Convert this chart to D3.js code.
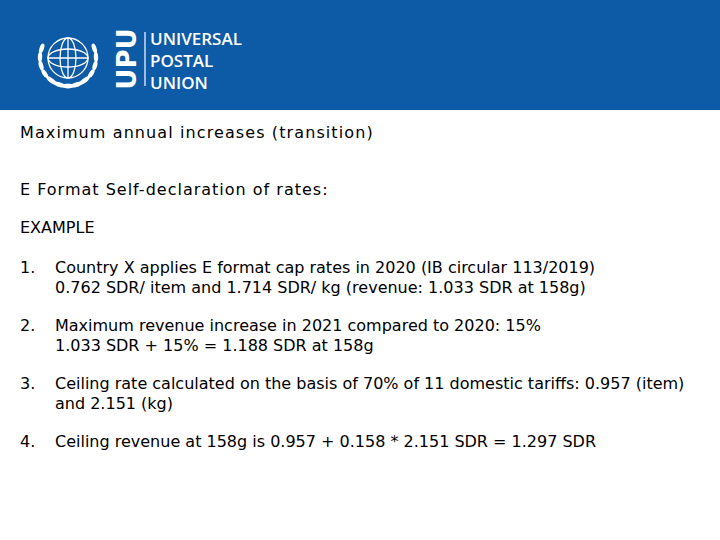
<!DOCTYPE html>
<html><head><meta charset="utf-8">
<script src="https://cdn.jsdelivr.net/npm/d3@7"></script>
<style>body{margin:0;background:#fff}</style>
</head><body>
<svg id="slide"></svg>
<script>
const width = 720, height = 540;
const brandLines = ["UNIVERSAL", "POSTAL", "UNION"];
const headings = ["Maximum annual increases (transition)", "E Format Self-declaration of rates:", "EXAMPLE"];
const itemNumbers = ["1.", "2.", "3.", "4."];
const itemLines = [
  ["Country X applies E format cap rates in 2020 (IB circular 113/2019)", "0.762 SDR/ item and 1.714 SDR/ kg (revenue: 1.033 SDR at 158g)"],
  ["Maximum revenue increase in 2021 compared to 2020: 15%", "1.033 SDR + 15% = 1.188 SDR at 158g"],
  ["Ceiling rate calculated on the basis of 70% of 11 domestic tariffs: 0.957 (item)", "and 2.151 (kg)"],
  ["Ceiling revenue at 158g is 0.957 + 0.158 * 2.151 SDR = 1.297 SDR"]
];

const svg = d3.select("#slide").attr("width", width).attr("height", height);
const font = "DejaVu Sans, Verdana, sans-serif";

// header band
svg.append("rect").attr("width", width).attr("height", 110).attr("fill", "#0d5aa7");

// emblem
const em = svg.append("g").attr("transform", "translate(68,58)")
  .attr("fill", "none").attr("stroke", "#fff").attr("stroke-width", 1.3);
em.append("circle").attr("r", 20);
em.append("ellipse").attr("rx", 8).attr("ry", 20);
em.append("line").attr("x1", -20).attr("x2", 20);
em.append("line").attr("y1", -20).attr("y2", 20);
em.append("ellipse").attr("rx", 20).attr("ry", 9);
[-1, 1].forEach(s => {
  d3.range(9).forEach(i => {
    const a = (200 - i * 18) * Math.PI / 180;
    const r = 28;
    em.append("ellipse").attr("rx", 2.2).attr("ry", 5)
      .attr("fill", "#fff").attr("stroke", "none")
      .attr("transform", `translate(${-s * r * Math.cos(a)},${r * Math.sin(a)}) rotate(${s * (i * 18 - 20)})`);
  });
});

// UPU vertical
svg.append("text").attr("transform", "translate(136,59) rotate(-90)")
  .attr("text-anchor", "middle").attr("fill", "#fff").attr("font-family", font)
  .attr("font-weight", "bold").attr("font-size", 26).text("UPU");
svg.append("line").attr("x1", 145).attr("x2", 145).attr("y1", 32).attr("y2", 86)
  .attr("stroke", "#fff").attr("stroke-width", 1.2);
svg.selectAll("text.brand").data(brandLines).join("text").attr("class", "brand")
  .attr("x", 150).attr("y", (d, i) => 45 + i * 22)
  .attr("fill", "#fff").attr("font-family", "Open Sans, sans-serif").attr("font-weight", 600)
  .attr("font-size", 17).text(d => d);

// body
const txt = (x, y, s, ls) => svg.append("text").attr("x", x).attr("y", y)
  .attr("font-family", font).attr("font-size", 16).attr("letter-spacing", ls || 0)
  .attr("fill", "#000").text(s);
const headY = [138, 195, 233];
const headLs = [1.1, 1, 0];
headings.forEach((h, i) => txt(20, headY[i], h, headLs[i]));
const itemY = [273, 331, 389, 447];
itemNumbers.forEach((n, i) => {
  txt(20, itemY[i], n);
  itemLines[i].forEach((l, j) => txt(55, itemY[i] + j * 20, l));
});
</script>
</body></html>
